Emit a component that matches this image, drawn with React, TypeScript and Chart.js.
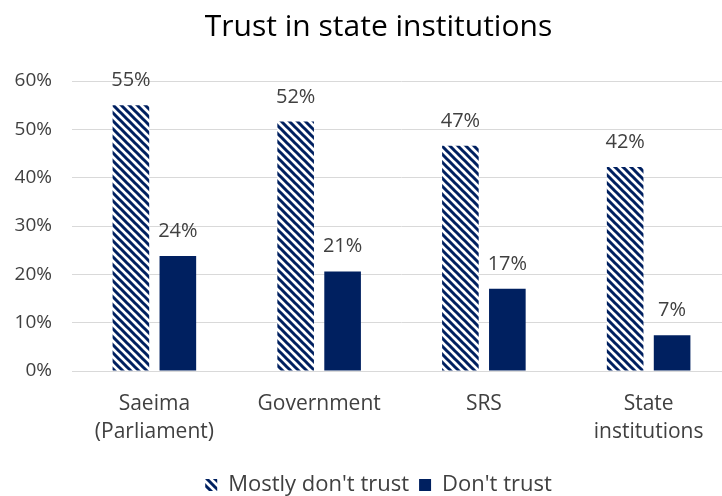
import React, { useEffect, useRef } from "react";
import { Chart, registerables } from "chart.js";

Chart.register(...registerables);

const categories: string[][] = [["Saeima", "(Parliament)"], ["Government"], ["SRS"], ["State", "institutions"]];
const mostlyDontTrust: number[] = [55, 51.6, 46.6, 42.2];
const dontTrust: number[] = [23.8, 20.6, 17, 7.4];
const yTicks: number[] = [0, 10, 20, 30, 40, 50, 60];

const NAVY = "#002060";
const FONT = "'Open Sans', 'Noto Sans', sans-serif";

function makePattern(): CanvasPattern | string {
  const c = document.createElement("canvas");
  c.width = 8;
  c.height = 8;
  const ctx = c.getContext("2d");
  if (!ctx) return NAVY;
  ctx.fillStyle = "#ffffff";
  ctx.fillRect(0, 0, 8, 8);
  ctx.strokeStyle = NAVY;
  ctx.lineWidth = 3;
  ctx.beginPath();
  for (let k = -8; k <= 16; k += 8) {
    ctx.moveTo(k - 2, -2);
    ctx.lineTo(k + 10, 10);
  }
  ctx.stroke();
  const p = ctx.createPattern(c, "repeat");
  return p || NAVY;
}

const labelPlugin = {
  id: "barLabels",
  afterDatasetsDraw(chart: any) {
    const ctx = chart.ctx;
    ctx.save();
    ctx.font = `20px ${FONT}`;
    ctx.fillStyle = "#404040";
    ctx.textAlign = "center";
    ctx.textBaseline = "alphabetic";
    chart.data.datasets.forEach((ds: any, i: number) => {
      const meta = chart.getDatasetMeta(i);
      meta.data.forEach((bar: any, j: number) => {
        const v = ds.data[j] as number;
        ctx.fillText(`${Math.round(v)}%`, bar.x, bar.y - 19);
      });
    });
    ctx.restore();
  },
};

// shift the centred title and legend a little to the right, as in the reference
const shiftPlugin = {
  id: "shiftBlocks",
  afterLayout(chart: any) {
    const dx = 13;
    for (const b of [chart.titleBlock, chart.legend]) {
      if (b) {
        b.left += dx;
        b.right += dx;
      }
    }
  },
};

export default function App() {
  const ref = useRef<HTMLCanvasElement | null>(null);
  useEffect(() => {
    if (!ref.current) return;
    const pattern = makePattern();
    const chart = new Chart(ref.current, {
      type: "bar",
      data: {
        labels: categories,
        datasets: [
          {
            label: "Mostly don't trust",
            data: mostlyDontTrust,
            backgroundColor: pattern as any,
            borderWidth: 0,
            barPercentage: 0.78,
            categoryPercentage: 0.57,
          },
          {
            label: "Don't trust",
            data: dontTrust,
            backgroundColor: NAVY,
            borderWidth: 0,
            barPercentage: 0.78,
            categoryPercentage: 0.57,
          },
        ],
      },
      options: {
        animation: false,
        responsive: true,
        maintainAspectRatio: false,
        layout: { padding: { left: 0, right: 0, top: 0, bottom: -10 } },
        plugins: {
          title: {
            display: true,
            text: "Trust in state institutions",
            color: "#000000",
            font: { family: FONT, size: 30, weight: "normal", lineHeight: 1.2 },
            padding: { top: 9, bottom: 36 },
          },
          legend: {
            position: "bottom",
            labels: {
              color: "#404040",
              font: { family: FONT, size: 22 },
              boxWidth: 12,
              boxHeight: 12,
              padding: 10,
            },
          },
          tooltip: { enabled: false },
        },
        scales: {
          x: {
            grid: { display: false },
            border: { display: true, color: "#d9d9d9" },
            ticks: {
              color: "#404040",
              font: { family: FONT, size: 21, lineHeight: 1.33 },
              padding: 11,
              maxRotation: 0,
            },
            afterFit(scale: any) {
              scale.height = 93;
            },
          },
          y: {
            min: 0,
            max: 60,
            afterBuildTicks(axis: any) {
              axis.ticks = yTicks.map((v) => ({ value: v }));
            },
            afterFit(scale: any) {
              scale.width = 72;
            },
            grid: { color: "#d9d9d9", drawTicks: false },
            border: { display: false },
            ticks: {
              color: "#404040",
              font: { family: FONT, size: 19 },
              padding: 20,
              callback: (v: any) => `${v}%`,
            },
          },
        },
      },
      plugins: [labelPlugin, shiftPlugin],
    });
    return () => chart.destroy();
  }, []);
  return (
    <div style={{ position: "fixed", left: 0, top: 0, width: 731, height: 496, background: "#fff" }}>
      <canvas ref={ref} />
    </div>
  );
}
